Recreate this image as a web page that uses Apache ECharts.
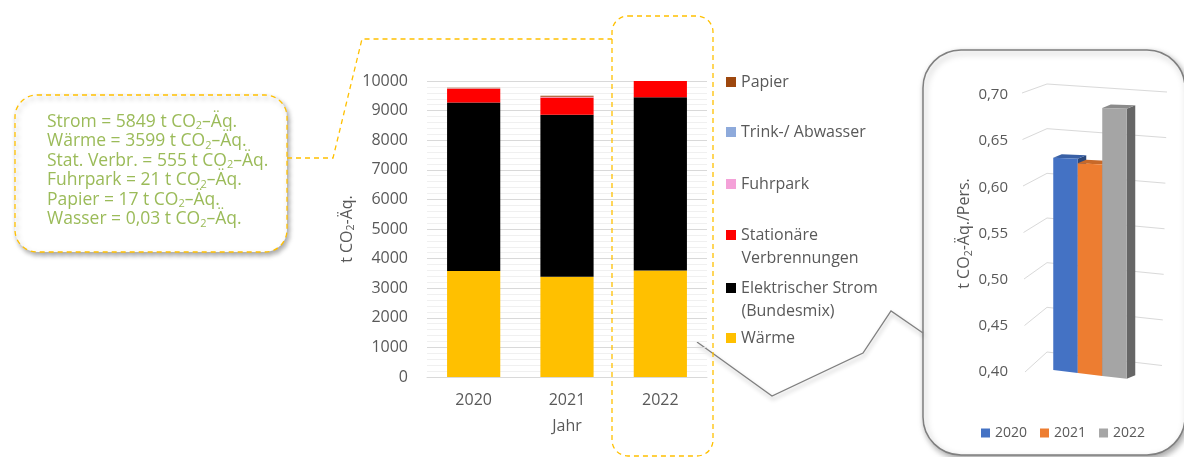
<!DOCTYPE html>
<html>
<head>
<meta charset="utf-8">
<script src="https://cdn.jsdelivr.net/npm/echarts@6/dist/echarts.min.js"></script>
<style>
html,body{margin:0;padding:0;background:#fff;}
#c{width:1184px;height:457px;}
</style>
</head>
<body>
<div id="c"></div>
<script>
// ---- data ----
const years = ['2020', '2021', '2022'];
const waerme = [3580, 3390, 3599];
const strom = [5690, 5470, 5849];
const stationaer = [465, 580, 555];
const fuhrpark = [20, 25, 21];
const wasser = [0.03, 0.03, 0.03];
const papier = [15, 40, 17];
const yTicksMain = [0, 1000, 2000, 3000, 4000, 5000, 6000, 7000, 8000, 9000, 10000];

const perPerson = [0.63, 0.625, 0.685];
const yTicksInset = [0.40, 0.45, 0.50, 0.55, 0.60, 0.65, 0.70];

const calloutLabels = ['Strom', 'Wärme', 'Stat. Verbr.', 'Fuhrpark', 'Papier', 'Wasser'];
const calloutValues = ['5849', '3599', '555', '21', '17', '0,03'];

// ---- styling ----
const FONT = '"Open Sans", Lato, sans-serif';
const TXT = '#595959';
const FS = 16;
const seriesDefs = [
  { name: 'Wärme', data: waerme, color: '#ffc000' },
  { name: 'Elektrischer Strom (Bundesmix)', data: strom, color: '#000000' },
  { name: 'Stationäre Verbrennungen', data: stationaer, color: '#ff0000' },
  { name: 'Fuhrpark', data: fuhrpark, color: '#f4a1d8' },
  { name: 'Trink-/ Abwasser', data: wasser, color: '#8eaadb' },
  { name: 'Papier', data: papier, color: '#9e480e' }
];
const legendItems = [
  { name: 'Papier', label: 'Papier', cy: 82 },
  { name: 'Trink-/ Abwasser', label: 'Trink-/ Abwasser', cy: 132 },
  { name: 'Fuhrpark', label: 'Fuhrpark', cy: 184 },
  { name: 'Stationäre Verbrennungen', label: 'Stationäre', cy: 235, second: 'Verbrennungen' },
  { name: 'Elektrischer Strom (Bundesmix)', label: 'Elektrischer Strom', cy: 288, second: '(Bundesmix)' },
  { name: 'Wärme', label: 'Wärme', cy: 338 }
];
const insetColors = ['#4472c4', '#ed7d31', '#a5a5a5'];

function shade(hex, f) {
  const n = parseInt(hex.slice(1), 16);
  const r = Math.round(((n >> 16) & 255) * f), g = Math.round(((n >> 8) & 255) * f), b = Math.round((n & 255) * f);
  return 'rgb(' + r + ',' + g + ',' + b + ')';
}

const chart = echarts.init(document.getElementById('c'));

const legends = legendItems.map(it => ({
  show: true,
  data: [it.name],
  left: 726,
  top: it.cy - 10,
  padding: 0,
  itemWidth: 10,
  itemHeight: 10,
  itemGap: 0,
  icon: 'rect',
  formatter: () => it.label,
  textStyle: { color: TXT, fontSize: FS, fontFamily: FONT, lineHeight: 20 },
  selectedMode: false
}));
legends.push({
  data: years,
  left: 981,
  top: 433 - 9,
  padding: 0,
  itemWidth: 9,
  itemHeight: 9,
  itemGap: 13,
  icon: 'rect',
  textStyle: { color: TXT, fontSize: 14, fontFamily: FONT, lineHeight: 18 },
  selectedMode: false
});

const mainSeries = seriesDefs.map(s => ({
  type: 'bar',
  name: s.name,
  stack: 'total',
  xAxisIndex: 0,
  yAxisIndex: 0,
  barWidth: '57%',
  data: s.data,
  itemStyle: { color: s.color },
  emphasis: { disabled: true },
  z: 3
}));

const gridSeries = {
  type: 'custom',
  name: 'grid3d',
  xAxisIndex: 1,
  yAxisIndex: 1,
  data: yTicksInset.map(v => [0, v]),
  silent: true,
  z: 1,
  renderItem: function (params, api) {
    const v = api.value(1);
    const t = (v - 0.40) / 0.30;
    const c = api.coord([0, v]);
    const cx = c[0];
    const y0 = c[1] - 2 * t;
    const rise = 9 + 11 * (1 - t);
    const drop = 8 + 5.5 * (1 - t);
    const p0 = [cx - 68 + 3 * (1 - t), y0];
    const p1 = [cx - 43, y0 - rise];
    const p2 = [cx + 77 - 5 * (1 - t), y0 - rise + drop];
    return {
      type: 'polyline',
      shape: { points: [p0, p1, p2] },
      style: { stroke: '#d9d9d9', lineWidth: 1, fill: null }
    };
  }
};

const insetSeries = years.map((y, i) => ({
  type: 'custom',
  name: y,
  xAxisIndex: 1,
  yAxisIndex: 1,
  data: [[0, perPerson[i]]],
  itemStyle: { color: insetColors[i] },
  z: 3,
  renderItem: function (params, api) {
    const v = api.value(1);
    const base = api.coord([0, 0.40]);
    const band = api.size([1, 0])[0];
    const bw = band * 0.245;
    const xRef = base[0] - 1.5 * bw;
    const x0 = xRef + i * bw, x1 = x0 + bw;
    const yAt = (val, x) => {
      const t = (val - 0.40) / 0.30;
      return api.coord([0, val])[1] - 2 + (0.12 - 0.1 * t) * (x - xRef);
    };
    const dx = 8.5, dy = -3.5;
    const yT0 = yAt(v, x0), yT1 = yAt(v, x1), yB0 = yAt(0.40, x0), yB1 = yAt(0.40, x1);
    const col = insetColors[i];
    return {
      type: 'group',
      children: [
        { type: 'polygon', shape: { points: [[x1, yT1], [x1 + dx, yT1 + dy], [x1 + dx, yB1 + dy], [x1, yB1]] }, style: { fill: shade(col, 0.62) } },
        { type: 'polygon', shape: { points: [[x0, yT0], [x1, yT1], [x1 + dx, yT1 + dy], [x0 + dx, yT0 + dy]] }, style: { fill: shade(col, 0.84) } },
        { type: 'polygon', shape: { points: [[x0, yT0], [x1, yT1], [x1, yB1], [x0, yB0]] }, style: { fill: col } }
      ]
    };
  }
}));

const calloutText = calloutLabels.map((l, i) => l + ' = ' + calloutValues[i] + ' t CO{s|2}–Äq.').join('\n');

const graphics = [
  // inset frame
  { type: 'rect', z: -5, shape: { x: 923, y: 50, width: 262, height: 405, r: 38 },
    style: { fill: '#fff', stroke: '#7f7f7f', lineWidth: 1.5, shadowBlur: 6, shadowOffsetX: 2, shadowOffsetY: 3, shadowColor: 'rgba(0,0,0,0.35)' } },
  // pointer
  { type: 'polyline', z: -4, shape: { points: [[697, 342], [772, 396], [863, 353], [891, 311], [923, 333]] },
    style: { stroke: '#7f7f7f', lineWidth: 1.3, fill: null, shadowBlur: 4, shadowOffsetX: 1, shadowOffsetY: 3, shadowColor: 'rgba(0,0,0,0.3)' } },
  // callout box
  { type: 'rect', z: -5, shape: { x: 15, y: 95, width: 272, height: 157, r: 22 },
    style: { fill: '#fff', stroke: '#ffc000', lineWidth: 1.3, lineDash: [5, 4], shadowBlur: 5, shadowOffsetX: 2, shadowOffsetY: 3, shadowColor: 'rgba(0,0,0,0.35)' } },
  // connector
  { type: 'polyline', z: -4, shape: { points: [[287, 158], [333, 158], [362, 39], [612, 39]] },
    style: { stroke: '#ffc000', lineWidth: 1.3, lineDash: [5, 4], fill: null } },
  // 2022 highlight box
  { type: 'rect', z: 10, shape: { x: 612, y: 16, width: 101, height: 440, r: 16 },
    style: { fill: null, stroke: '#ffc000', lineWidth: 1.3, lineDash: [5, 4] } },
  // callout text
  { type: 'text', z: 10, left: 47, top: 112,
    style: { text: calloutText, fill: '#9bbb59', fontSize: 17.5, fontFamily: FONT, lineHeight: 19.5,
      rich: { s: { fontSize: 11, fontFamily: FONT, fill: '#9bbb59', verticalAlign: 'bottom', lineHeight: 12 } } } }
];
legendItems.forEach(it => {
  if (it.second) {
    graphics.push({ type: 'text', z: 10, left: 741.5, top: it.cy + 23 - 10,
      style: { text: it.second, fill: TXT, fontSize: FS, fontFamily: FONT, lineHeight: 20 } });
  }
});

const nameRich = {
  a: { color: TXT, fontSize: FS, fontFamily: FONT, lineHeight: 20 },
  s: { color: TXT, fontSize: 10.5, fontFamily: FONT, verticalAlign: 'bottom', lineHeight: 20 }
};

const option = {
  animation: false,
  color: seriesDefs.map(s => s.color),
  textStyle: { fontFamily: FONT },
  legend: legends,
  graphic: graphics,
  grid: [
    { left: 427, right: 477, top: 81, bottom: 80 },
    { left: 1040, width: 100, top: 95, bottom: 85 }
  ],
  xAxis: [
    { type: 'category', gridIndex: 0, data: years,
      axisLine: { lineStyle: { color: '#d9d9d9' } }, axisTick: { show: false },
      axisLabel: { color: TXT, fontSize: FS, fontFamily: FONT, margin: 15 },
      name: 'Jahr', nameLocation: 'middle', nameGap: 41,
      nameTextStyle: { color: TXT, fontSize: FS, fontFamily: FONT } },
    { type: 'category', gridIndex: 1, data: [''], show: false }
  ],
  yAxis: [
    { type: 'value', gridIndex: 0, min: yTicksMain[0], max: yTicksMain[yTicksMain.length - 1], interval: 1000,
      axisLine: { show: false }, axisTick: { show: false },
      axisLabel: { color: TXT, fontSize: FS, fontFamily: FONT, margin: 19, formatter: v => String(v) },
      splitLine: { lineStyle: { color: '#d9d9d9' } },
      minorTick: { show: false, splitNumber: 5 },
      minorSplitLine: { show: true, lineStyle: { color: '#f0f0f0' } },
      name: '{a|t CO}{s|2}{a|-Äq.}', nameLocation: 'middle', nameGap: 70,
      nameTextStyle: { rich: nameRich } },
    { type: 'value', gridIndex: 1, min: 0.40, max: 0.70, interval: 0.05,
      axisLine: { show: false }, axisTick: { show: false }, splitLine: { show: false },
      axisLabel: { color: TXT, fontSize: 15, fontFamily: FONT, margin: 32, formatter: v => v.toFixed(2).replace('.', ',') },
      name: '{a|t CO}{s|2}{a|-Äq./Pers.}', nameLocation: 'middle', nameGap: 65,
      nameTextStyle: { rich: nameRich } }
  ],
  series: mainSeries.concat([gridSeries]).concat(insetSeries)
};
chart.setOption(option);
</script>
</body>
</html>
